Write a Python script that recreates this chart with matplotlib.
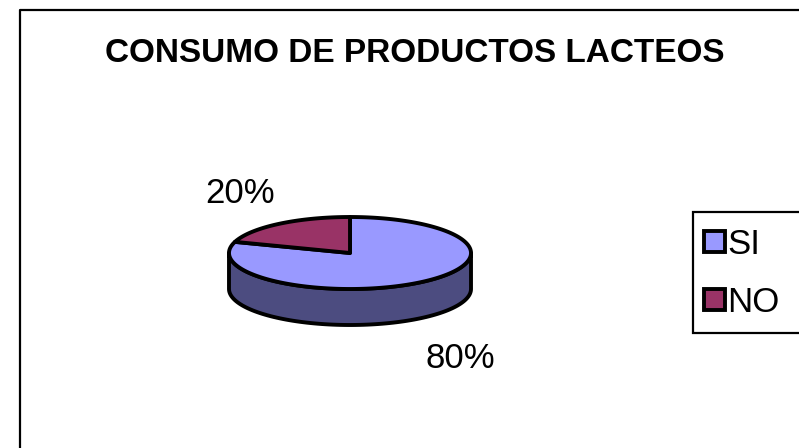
import numpy as np
import matplotlib.pyplot as plt
from matplotlib.patches import Polygon, Rectangle

# data
labels = ['SI', 'NO']
values = [80, 20]
top_colors = ['#9999FF', '#993366']
side_colors = ['#4C4C80', '#4C1933']
title = 'CONSUMO DE PRODUCTOS LACTEOS'

# pie geometry in pixel coords
cx, cy = 350, 253
rx, ry = 121, 36
depth = 36
lw = 2.8

plt.rcParams['font.family'] = 'Liberation Sans'

fig = plt.figure(figsize=(7.99, 4.48), dpi=100)
ax = fig.add_axes([0, 0, 1, 1])
ax.set_xlim(0, 799)
ax.set_ylim(448, 0)
ax.axis('off')

# outer chart border
ax.plot([20, 20, 805], [455, 10, 10], color='black', lw=1.6, solid_capstyle='butt')


def pt(t, dz=0.0):
    return cx + rx * np.cos(np.radians(t)), cy - ry * np.sin(np.radians(t)) + dz


# angles: start at 12 o'clock, go clockwise
total = float(sum(values))
spans = [v / total * 360 for v in values]
ranges = []
a = 90.0
for s in spans:
    ranges.append((a - s, a))
    a -= s

# sides (only front half visible)
for (t0, t1), sc in zip(ranges, side_colors):
    for shift in (-360, 0, 360):
        lo = max(t0 + shift, 180)
        hi = min(t1 + shift, 360)
        if hi > lo:
            ts = np.linspace(lo, hi, 100)
            upper = [pt(t) for t in ts]
            lower = [pt(t, depth) for t in ts[::-1]]
            ax.add_patch(Polygon(upper + lower, closed=True, facecolor=sc,
                                 edgecolor='black', lw=lw, joinstyle='round'))

# top wedges
for (t0, t1), tc in zip(ranges, top_colors):
    ts = np.linspace(t0, t1, 200)
    poly = [(cx, cy)] + [pt(t) for t in ts]
    ax.add_patch(Polygon(poly, closed=True, facecolor=tc, edgecolor='black',
                         lw=lw, joinstyle='round'))

# percentage labels
for (t0, t1), v in zip(ranges, values):
    m = (t0 + t1) / 2
    x = cx + 1.55 * rx * np.cos(np.radians(m))
    y = cy - 2.2 * ry * np.sin(np.radians(m)) + 5
    if np.sin(np.radians(m)) < 0:
        y += depth
    ax.text(x, y, '%d%%' % v, fontsize=25, ha='center', va='center')

ax.text(415, 53, title, fontsize=24, fontweight='bold', ha='center', va='center')

# legend box
ax.add_patch(Rectangle((693, 212), 120, 121, facecolor='white', edgecolor='black', lw=1.6))
for i, (lab, tc) in enumerate(zip(labels, top_colors)):
    y = 242 + i * 58
    ax.add_patch(Rectangle((704, y - 10.5), 21, 21, facecolor=tc, edgecolor='black', lw=2.8))
    ax.text(727, y + 2, lab, fontsize=25, ha='left', va='center')

fig.savefig('out.png', dpi=100)
